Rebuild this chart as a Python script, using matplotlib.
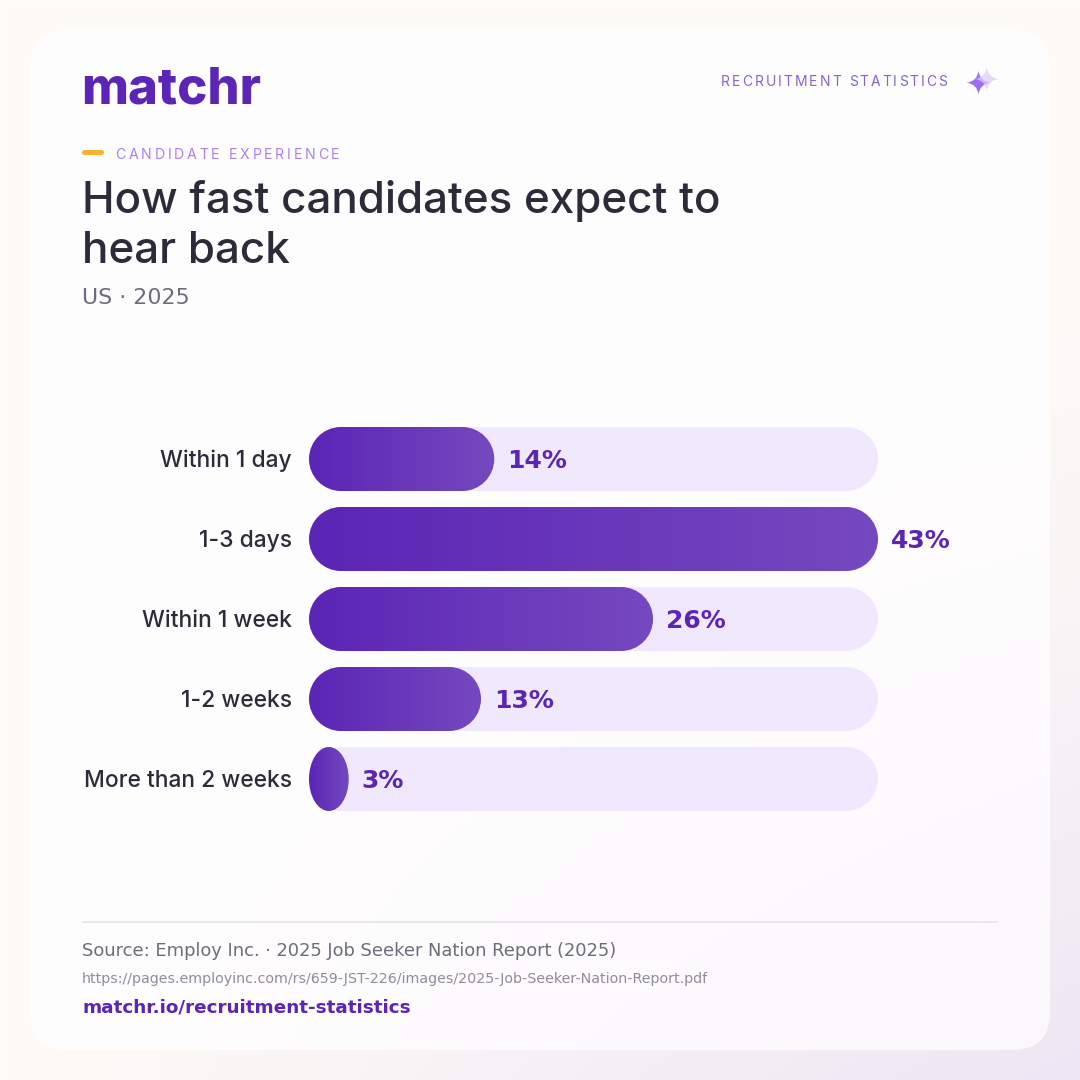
import numpy as np
import matplotlib
matplotlib.use("Agg")
import matplotlib.pyplot as plt
from matplotlib.colors import LinearSegmentedColormap, to_rgb
from matplotlib.patches import FancyBboxPatch, PathPatch, Rectangle
from matplotlib.path import Path
from matplotlib.text import Text

# --- data ---
categories = ["Within 1 day", "1-3 days", "Within 1 week", "1-2 weeks", "More than 2 weeks"]
values = [14, 43, 26, 13, 3]
track_max = 43

PURPLE = "#5b25b5"
PURPLE_END = "#7549bf"
TRACK = "#f0e9fd"
INK = "#2d2b3a"
GREY = "#6e6c7c"
HEAD_FONT = "Inter"
BODY_FONT = "DejaVu Sans"


class TrackedText(Text):
    """Text with letter spacing, in pixels, added between the characters."""

    def __init__(self, x, y, text, tracking=0, **kw):
        super().__init__(x, y, text, **kw)
        self.tracking = tracking

    def draw(self, renderer):
        full = self.get_text()
        x0, y0 = self.get_position()
        prop = self.get_fontproperties()
        ref = renderer.get_text_width_height_descent("|", prop, False)[0]
        for i, ch in enumerate(full):
            w = renderer.get_text_width_height_descent(full[:i] + "|", prop, False)[0] - ref
            self.set_text(ch)
            self.set_position((x0 + (w if i else 0) + i * self.tracking, y0))
            super().draw(renderer)
        self.set_text(full)
        self.set_position((x0, y0))


def wash(base, tint, n=256):
    # base colour, fading into the tint towards the lower right corner
    t = np.linspace(0, 1, n)
    u, v = np.meshgrid(t, t)
    mix = (u * v ** 2)[..., None]
    return (1 - mix) * np.array(to_rgb(base)) + mix * np.array(to_rgb(tint))


def pill_path(x0, x1, yc, half, rx):
    # rounded bar, elliptical corners so that it stays a pill in data units
    rx = min(rx, (x1 - x0) / 2)
    k = 0.5523
    top, bot = yc - half, yc + half
    verts = [
        (x0 + rx, top), (x1 - rx, top),
        (x1 - rx + k * rx, top), (x1, yc - k * half), (x1, yc),
        (x1, yc + k * half), (x1 - rx + k * rx, bot), (x1 - rx, bot),
        (x0 + rx, bot),
        (x0 + rx - k * rx, bot), (x0, yc + k * half), (x0, yc),
        (x0, yc - k * half), (x0 + rx - k * rx, top), (x0 + rx, top),
        (x0 + rx, top),
    ]
    codes = [Path.MOVETO, Path.LINETO] + [Path.CURVE4] * 6 + [Path.LINETO] + [Path.CURVE4] * 6 + [Path.CLOSEPOLY]
    return Path(verts, codes)


def star_path(cx, cy, r):
    k = 0.1 * r
    verts = [(cx, cy - r),
             (cx + k, cy - k), (cx + r, cy),
             (cx + k, cy + k), (cx, cy + r),
             (cx - k, cy + k), (cx - r, cy),
             (cx - k, cy - k), (cx, cy - r),
             (cx, cy - r)]
    return Path(verts, [Path.MOVETO] + [Path.CURVE3] * 8 + [Path.CLOSEPOLY])


fig = plt.figure(figsize=(10.8, 10.8), dpi=100)

# page layer in pixel coordinates
bg = fig.add_axes([0, 0, 1, 1])
bg.set_xlim(0, 1080)
bg.set_ylim(1080, 0)
bg.axis("off")
bg.imshow(wash("#fffbf6", "#eee6f4"), extent=(0, 1080, 1080, 0), aspect="auto", zorder=0)
card = FancyBboxPatch((30, 30), 1020, 1020, boxstyle="round,pad=0,rounding_size=38",
                      fc="none", ec="none", transform=bg.transData)
bg.add_patch(card)
card_img = bg.imshow(wash("#fffefe", "#fbf8fc"), extent=(0, 1080, 1080, 0), aspect="auto", zorder=1)
card_img.set_clip_path(card)
bg.set_xlim(0, 1080)
bg.set_ylim(1080, 0)


def tracked(x, y, s, tracking, **kw):
    t = TrackedText(x, y, s, tracking=tracking, transform=bg.transData, va="baseline", **kw)
    bg.add_artist(t)
    return t


# header
bg.text(81, 104, "matchr", fontsize=36.5, fontweight="heavy", family=HEAD_FONT, color=PURPLE, va="baseline", zorder=3)
tracked(721, 86, "RECRUITMENT STATISTICS", 2.0, fontsize=10, family=HEAD_FONT, color="#8a62cf", zorder=3)
bg.add_patch(PathPatch(star_path(978.5, 82.7, 12), fc="#9a6ef2", ec="none", zorder=3))
bg.add_patch(PathPatch(star_path(986.7, 79, 12), fc="#dccdfc", ec="none", alpha=0.75, zorder=4))

bg.add_patch(FancyBboxPatch((82, 150), 22, 5, boxstyle="round,pad=0,rounding_size=2.5", fc="#f8b334", ec="none", zorder=3))
tracked(115.5, 159, "CANDIDATE EXPERIENCE", 2.7, fontsize=10.2, family=HEAD_FONT, color="#ab7ff5", zorder=3)
bg.text(82, 213, "How fast candidates expect to", fontsize=31.7, family=HEAD_FONT, fontweight="medium", color=INK, va="baseline", zorder=3)
bg.text(82, 263, "hear back", fontsize=31.7, family=HEAD_FONT, fontweight="medium", color=INK, va="baseline", zorder=3)
bg.text(82, 304, "US · 2025", fontsize=15.9, family=BODY_FONT, color=GREY, va="baseline", zorder=3)

# footer
bg.add_patch(Rectangle((82, 921), 916, 2, fc="#e9e6ef", ec="none", zorder=3))
bg.text(82, 956, "Source: Employ Inc. · 2025 Job Seeker Nation Report (2025)", fontsize=12.9, family=BODY_FONT, color=GREY, va="baseline", zorder=3)
bg.text(82, 983, "https://pages.employinc.com/rs/659-JST-226/images/2025-Job-Seeker-Nation-Report.pdf", fontsize=10.28, family=BODY_FONT, color="#8f8d9b", va="baseline", zorder=3)
bg.text(82, 1013, "matchr.io/recruitment-statistics", fontsize=13.2, family=BODY_FONT, fontweight="bold", color=PURPLE, va="baseline", zorder=3)

# chart: 309..878 px wide, rows 80 px apart
ax = fig.add_axes([309 / 1080, 1 - 819 / 1080, 569 / 1080, 400 / 1080])
ax.patch.set_alpha(0)
ax.axis("off")
cmap = LinearSegmentedColormap.from_list("bar", [PURPLE, PURPLE_END])
grad = np.linspace(0, 1, 256).reshape(1, -1)
half = 0.4
rx = 32 / 569 * track_max

for i, (cat, val) in enumerate(zip(categories, values)):
    ax.add_patch(PathPatch(pill_path(0, track_max, i, half, rx), fc=TRACK, ec="none", zorder=1))
    fill = PathPatch(pill_path(0, val, i, half, rx), fc="none", ec="none", zorder=2)
    ax.add_patch(fill)
    im = ax.imshow(grad, cmap=cmap, extent=(0, val, i + half, i - half), aspect="auto", zorder=2)
    im.set_clip_path(fill)
    ax.annotate(f"{val}%", (val, i), xytext=(9.3, 0.7), textcoords="offset points", ha="left", va="center_baseline",
                fontsize=18, fontweight="bold", family=BODY_FONT, color=PURPLE, annotation_clip=False, zorder=3)
    ax.annotate(cat, (0, i), xytext=(-12.3, 0.4), textcoords="offset points", ha="right", va="center_baseline",
                fontsize=16.4, fontweight="medium", family=HEAD_FONT, color=INK, annotation_clip=False, zorder=3)

ax.set_xlim(0, track_max)
ax.set_ylim(4.5, -0.5)

fig.savefig("out.png", dpi=100)
